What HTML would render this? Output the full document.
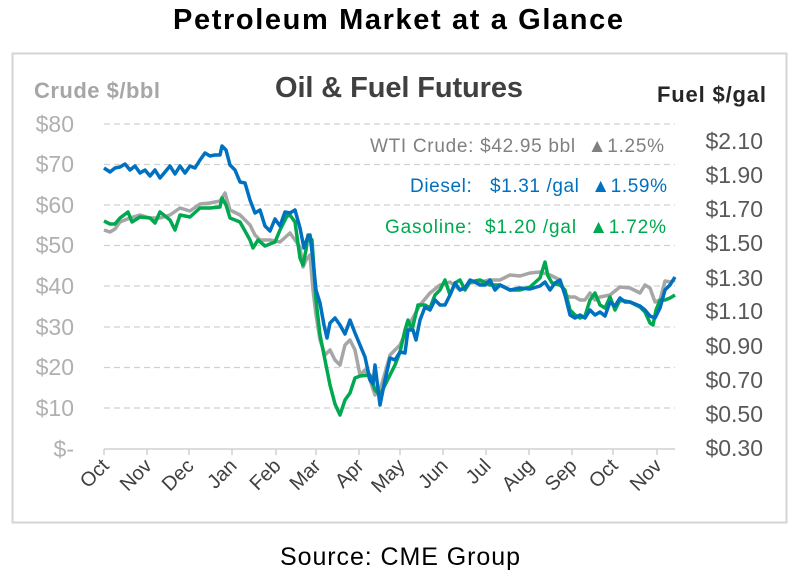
<!DOCTYPE html>
<html><head><style>
body{margin:0;background:#fff;width:795px;height:582px;overflow:hidden;font-family:"Liberation Sans",sans-serif}
</style></head><body>
<svg width="795" height="582" xmlns="http://www.w3.org/2000/svg" font-family="Liberation Sans, sans-serif">
<text x="398" y="29" text-anchor="middle" font-size="29" font-weight="bold" fill="#000" textLength="450">Petroleum Market at a Glance</text>
<rect x="12.5" y="53.5" width="774" height="469" fill="#fff" stroke="#d4d4d4" stroke-width="2"/>
<text x="399" y="97" text-anchor="middle" font-size="29" font-weight="bold" fill="#404040" textLength="248">Oil &amp; Fuel Futures</text>
<text x="34" y="98" font-size="22" font-weight="bold" fill="#a6a6a6" textLength="126">Crude $/bbl</text>
<text x="657" y="102" font-size="22" font-weight="bold" fill="#262626" textLength="109">Fuel $/gal</text>
<g stroke="#d0d0d0" stroke-dasharray="6,4" stroke-width="1.2">
<line x1="104" x2="675" y1="124" y2="124"/><line x1="104" x2="675" y1="164.5" y2="164.5"/>
<line x1="104" x2="675" y1="205" y2="205"/><line x1="104" x2="675" y1="245.5" y2="245.5"/>
<line x1="104" x2="675" y1="286" y2="286"/><line x1="104" x2="675" y1="327" y2="327"/>
<line x1="104" x2="675" y1="367.5" y2="367.5"/><line x1="104" x2="675" y1="408" y2="408"/>
</g>
<g stroke="#d0d0d0" stroke-width="1.5">
<line x1="104" x2="675" y1="449" y2="449"/>
<line x1="104" x2="104" y1="449" y2="455"/><line x1="147" x2="147" y1="449" y2="455"/><line x1="189" x2="189" y1="449" y2="455"/><line x1="232" x2="232" y1="449" y2="455"/><line x1="276" x2="276" y1="449" y2="455"/><line x1="316" x2="316" y1="449" y2="455"/><line x1="359" x2="359" y1="449" y2="455"/><line x1="400" x2="400" y1="449" y2="455"/><line x1="443" x2="443" y1="449" y2="455"/><line x1="486" x2="486" y1="449" y2="455"/><line x1="529" x2="529" y1="449" y2="455"/><line x1="572" x2="572" y1="449" y2="455"/><line x1="613" x2="613" y1="449" y2="455"/><line x1="657" x2="657" y1="449" y2="455"/>
</g>
<g font-size="23" fill="#b0b0b0" text-anchor="end">
<text x="74" y="132">$80</text><text x="74" y="172">$70</text><text x="74" y="213">$60</text><text x="74" y="253">$50</text><text x="74" y="294">$40</text><text x="74" y="335">$30</text><text x="74" y="375">$20</text><text x="74" y="416">$10</text><text x="74" y="457">$-</text>
</g>
<g font-size="23" fill="#595959" text-anchor="end">
<text x="763" y="149">$2.10</text><text x="763" y="183">$1.90</text><text x="763" y="217">$1.70</text><text x="763" y="251">$1.50</text><text x="763" y="286">$1.30</text><text x="763" y="319">$1.10</text><text x="763" y="354">$0.90</text><text x="763" y="388">$0.70</text><text x="763" y="422">$0.50</text><text x="763" y="456">$0.30</text>
</g>
<g font-size="20" fill="#404040" text-anchor="end">
<text transform="translate(110,467) rotate(-45)">Oct</text>
<text transform="translate(153,467) rotate(-45)">Nov</text>
<text transform="translate(195,467) rotate(-45)">Dec</text>
<text transform="translate(238,467) rotate(-45)">Jan</text>
<text transform="translate(282,467) rotate(-45)">Feb</text>
<text transform="translate(322,467) rotate(-45)">Mar</text>
<text transform="translate(365,467) rotate(-45)">Apr</text>
<text transform="translate(406,467) rotate(-45)">May</text>
<text transform="translate(449,467) rotate(-45)">Jun</text>
<text transform="translate(492,467) rotate(-45)">Jul</text>
<text transform="translate(535,467) rotate(-45)">Aug</text>
<text transform="translate(578,467) rotate(-45)">Sep</text>
<text transform="translate(619,467) rotate(-45)">Oct</text>
<text transform="translate(663,467) rotate(-45)">Nov</text>
</g>
<g font-size="19">
<text x="370" y="152" fill="#808080" textLength="294" xml:space="preserve">WTI Crude: $42.95 bbl  ▲1.25%</text>
<text x="410" y="192" fill="#0070c0" textLength="257" xml:space="preserve">Diesel:   $1.31 /gal  ▲1.59%</text>
<text x="385" y="233" fill="#00a94f" textLength="281" xml:space="preserve">Gasoline:  $1.20 /gal  ▲1.72%</text>
</g>
<g fill="none" stroke-width="3.5" stroke-linejoin="round">
<polyline stroke="#a6a6a6" points="104,230 110,232 115,229 120,222 130,218 140,215 150,218 160,218 170,215 180,208 190,211 200,204 210,203 220,201 225,193 230,210 240,215 250,225 255,235 260,240 270,240 280,242 290,233 295,240 300,247 303,267 306,260 310,255 313,290 316,315 320,340 325,355 330,350 335,360 340,365 345,345 350,340 355,350 360,375 365,370 370,380 375,395 380,390 385,373 390,355 395,350 400,345 410,323 420,305 430,293 440,285 450,282 460,290 470,283 480,282 490,280 500,280 510,275 520,276 530,273 540,272 550,275 560,280 565,295 570,297 575,297 580,300 585,300 590,293 595,300 600,297 610,295 620,287 630,288 640,293 645,285 650,288 655,302 660,300 665,281 670,282 675,280"/>
<polyline stroke="#00a94f" points="104,221 110,224 115,224 120,218 128,212 132,222 140,217 150,218 155,223 160,212 165,216 170,220 175,230 180,215 190,217 200,208 210,208 220,207 222,198 226,205 230,218 240,222 250,240 253,248 258,240 265,246 275,242 280,230 287,216 290,215 295,222 300,258 303,265 306,250 308,235 312,240 316,300 320,335 325,360 330,385 335,404 340,415 345,400 350,393 355,378 360,376 370,375 375,390 380,395 385,385 390,375 395,365 400,352 405,330 408,320 412,330 418,305 425,305 430,308 435,295 440,290 445,280 450,295 455,283 460,280 465,290 470,282 480,280 490,285 500,285 510,290 520,290 530,287 540,278 545,262 548,276 552,283 560,285 565,290 570,310 575,315 580,318 585,316 590,300 595,293 600,305 605,308 610,297 615,310 620,300 630,302 640,307 645,312 650,323 653,325 656,310 660,300 665,300 670,298 675,295"/>
<polyline stroke="#0070c0" points="104,168 110,172 115,168 120,167 125,164 130,170 135,166 140,173 145,170 150,176 155,170 160,178 165,172 170,166 175,174 180,166 185,173 190,166 195,168 200,160 205,153 210,156 215,155 220,155 222,146 226,150 230,165 235,170 240,182 245,183 250,200 255,213 260,210 265,226 270,231 275,219 280,226 285,212 290,213 295,210 300,228 304,248 308,236 310,235 313,260 316,290 320,303 324,325 327,338 330,323 335,318 340,325 345,334 350,320 355,333 360,345 365,357 370,380 373,384 375,365 380,405 385,380 390,358 395,360 400,352 405,353 408,330 413,330 416,340 420,320 425,307 430,310 435,300 440,305 445,305 450,295 455,283 460,290 465,288 470,280 475,282 480,285 485,285 490,280 495,290 500,285 510,290 520,288 530,289 540,286 545,282 550,290 555,283 560,280 565,295 570,315 575,318 580,315 585,318 590,310 595,315 600,312 605,316 610,302 615,306 620,298 625,302 630,302 640,306 645,310 650,316 655,318 660,308 665,290 670,285 675,277"/>
</g>
<text x="400" y="565" text-anchor="middle" font-size="25" fill="#000" textLength="240">Source: CME Group</text>
</svg>
</body></html>
